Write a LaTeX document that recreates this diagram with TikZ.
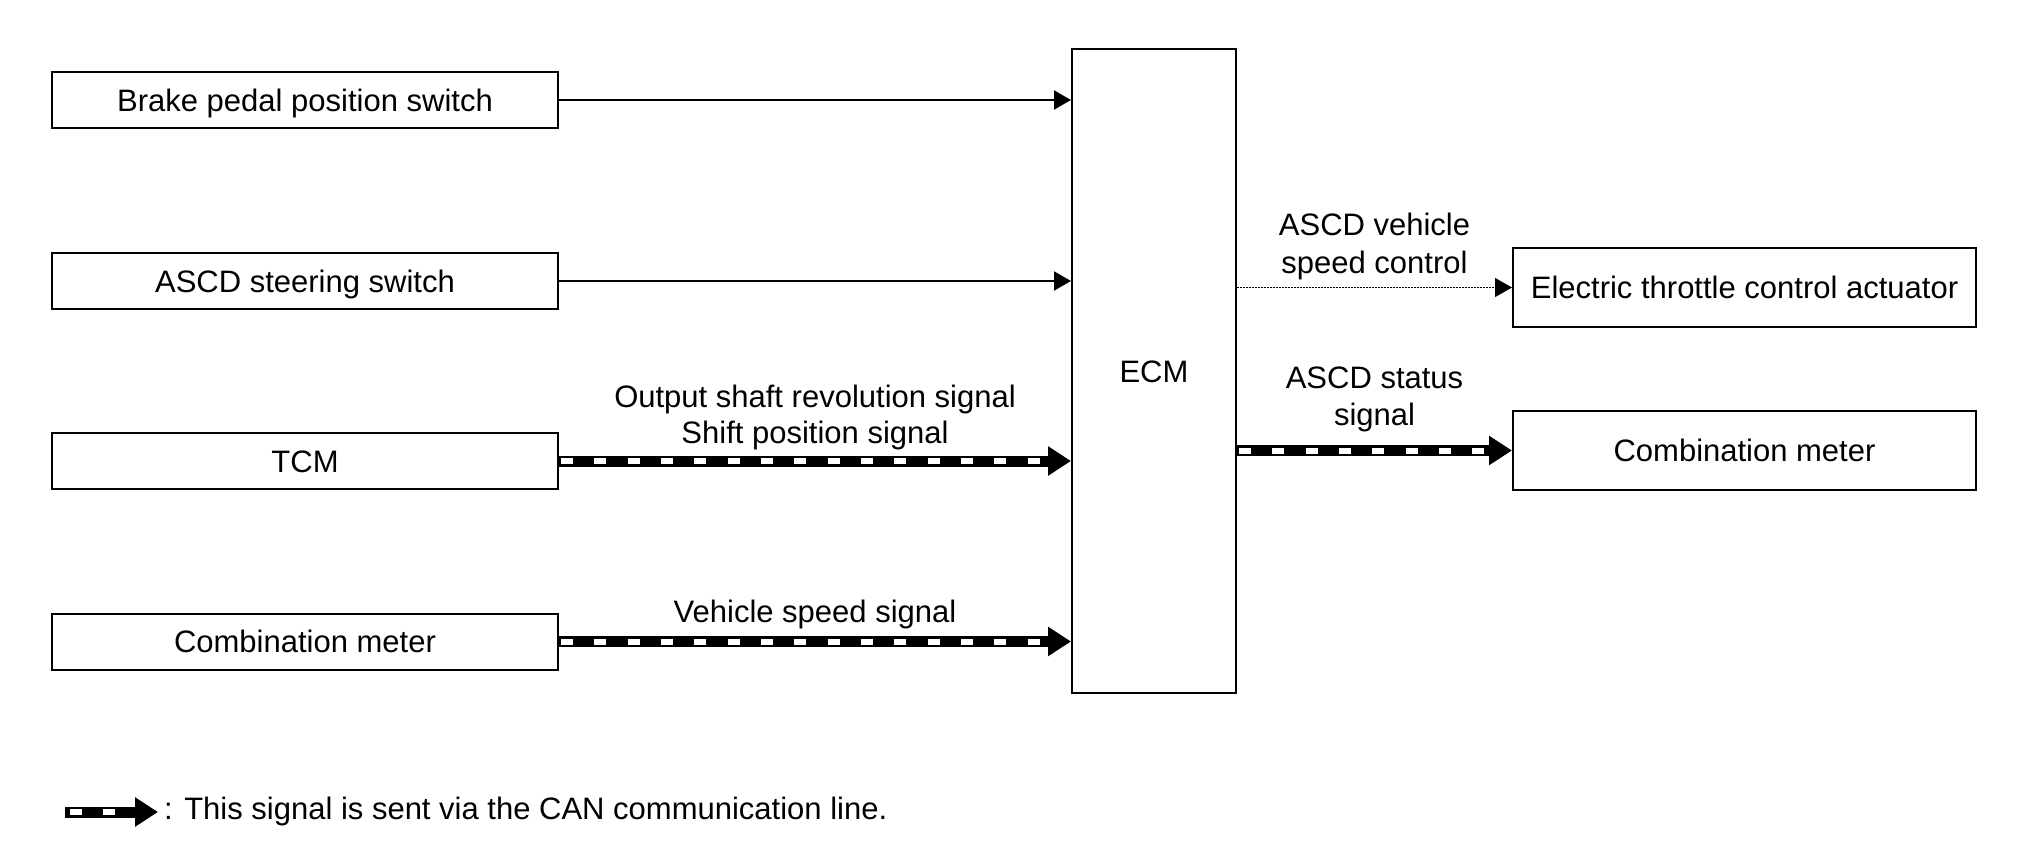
\documentclass[tikz,border=0pt]{standalone}
\usepackage{fontspec}
\setmainfont{Liberation Sans}
\usetikzlibrary{arrows.meta}
\begin{document}
\begin{tikzpicture}[x=1pt,y=-1pt,
  txt/.style={font=\fontsize{31}{37}\selectfont},
  box/.style={txt, draw, line width=2pt, inner sep=0pt, text height=22.2pt, text depth=0pt},
  lbl/.style={txt, inner sep=0pt, anchor=base},
  sigline/.style={line width=2pt, -{Triangle[length=17pt,width=19pt]}},
  dotline/.style={line width=1.2pt, dash pattern=on 1.5pt off 1.5pt, -{Triangle[length=17pt,width=19pt]}},
  can/.style={line width=11pt, -{Triangle[length=23pt,width=28pt]},
    postaction={draw=white, line width=6pt, dash pattern=on 12pt off 21.33pt, dash phase=#1, shorten >=23pt, -}},
  can/.default=31.33pt
]
\path[fill=white] (0,0) rectangle (2020,851);

% left boxes
\node[box, minimum width=506pt, minimum height=56pt] (brake) at (305,100) {Brake pedal position switch};
\node[box, minimum width=506pt, minimum height=56pt] (ascd) at (305,281) {ASCD steering switch};
\node[box, minimum width=506pt, minimum height=56pt] (tcm) at (305,461) {TCM};
\node[box, minimum width=506pt, minimum height=56pt] (cml) at (305,641.5) {Combination meter};

% ECM
\node[box, minimum width=164pt, minimum height=644pt] (ecm) at (1154,371) {ECM};

% right boxes
\node[box, minimum width=463pt, minimum height=79pt] (etc) at (1744.5,287.5) {Electric throttle control actuator};
\node[box, minimum width=463pt, minimum height=79pt] (cmr) at (1744.5,450.5) {Combination meter};

% connectors
\draw[sigline] (brake.east) -- (brake.east -| ecm.west);
\draw[sigline] (ascd.east) -- (ascd.east -| ecm.west);
\draw[can] (tcm.east) -- (tcm.east -| ecm.west);
\draw[can] (cml.east) -- (cml.east -| ecm.west);
\draw[dotline] (etc.west -| ecm.east) -- (etc.west);
\draw[can] (cmr.west -| ecm.east) -- (cmr.west);

% labels
\node[lbl] (l1a) at (815,407.5) {Output shaft revolution signal};
\node[lbl] (l1b) at (815,443.5) {Shift position signal};
\node[lbl] (l2) at (815,622.5) {Vehicle speed signal};
\node[lbl] (l3a) at (1374.5,235.5) {ASCD vehicle};
\node[lbl] (l3b) at (1374.5,273.5) {speed control};
\node[lbl] (l4a) at (1374.5,388.5) {ASCD status};
\node[lbl] (l4b) at (1374.5,425.5) {signal};

% legend
\coordinate (lg1) at (65,812);
\coordinate (lg2) at (158,812);
\draw[can=28.33pt] (lg1) -- (lg2);
\node[txt, inner sep=0pt, anchor=base west] (legtxt) at (164,819.5) {: This signal is sent via the CAN communication line.};
\end{tikzpicture}
\end{document}
